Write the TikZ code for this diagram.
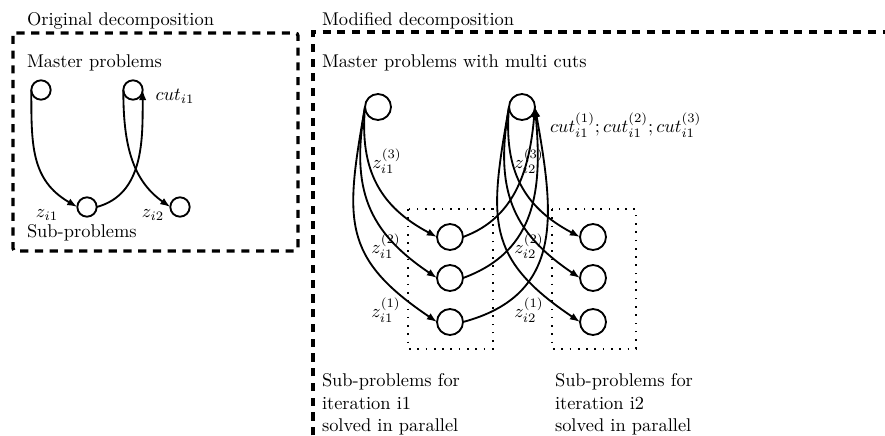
\documentclass[tikz,border=0pt]{standalone}
\usetikzlibrary{arrows.meta}
\begin{document}
\begin{tikzpicture}[x=0.5426pt,y=-0.5426pt,
 every node/.style={inner sep=0pt, outer sep=0pt},
 bigc/.style={circle,draw,line width=1pt,minimum size=14.1pt},
 smallc/.style={circle,draw,line width=1pt,minimum size=10.5pt},
 arr/.style={line width=1pt,-{Latex[length=5.5pt,width=4pt]}},
 frame/.style={line width=1.8pt,dash pattern=on 4.4pt off 3.6pt},
 grp/.style={line width=0.9pt,dash pattern=on 0.9pt off 3.6pt}]
\useasboundingbox (0,0) rectangle (885,436);
% ---------- left panel ----------
\draw[frame, rounded corners=1.5pt] (13,33) rectangle (298,251);
\node[anchor=base west] (t1) at (27,26) {Original decomposition};
\node[anchor=base west] (t2) at (27,68) {Master problems};
\node[smallc] (m1) at (41,90) {};
\node[smallc] (m2) at (133,90) {};
\node[smallc] (s1) at (87,207) {};
\node[smallc] (s2) at (180,207) {};
\node (cut) at (175,96) {$cut_{i1}$};
\node (zl1) at (47,215) {$z_{i1}$};
\node (zl2) at (153,215) {$z_{i2}$};
\node[anchor=base west] (t3) at (27,237) {Sub-problems};
\draw[arr] (m1.west) to[out=-90,in=150,looseness=1.1] (s1.west);
\draw[arr] (s1.east) to[out=15,in=-90] (m2.east);
\draw[arr] (m2.west) to[out=-90,in=145] (s2.west);
% ---------- right panel ----------
\draw[frame] (313,450) -- (313,32) -- (900,32);
\node[anchor=base west] (t4) at (322,26) {Modified decomposition};
\node[anchor=base west] (t5) at (322,68) {Master problems with multi cuts};
\draw[grp] (408,209) rectangle (493,349);
\draw[grp] (552,209) rectangle (636,349);
\node[bigc] (A) at (378,107) {};
\node[bigc] (B) at (522,107) {};
\node[bigc] (g1a) at (450,237) {};
\node[bigc] (g1b) at (450,278) {};
\node[bigc] (g1c) at (450,322) {};
\node[bigc] (g2a) at (593,237) {};
\node[bigc] (g2b) at (593,278) {};
\node[bigc] (g2c) at (593,322) {};
\draw[arr] (A.west) to[out=-95,in=152,looseness=1.1] (g1a.west);
\draw[arr] (A.west) to[out=-100,in=146,looseness=1.15] (g1b.west);
\draw[arr] (A.west) to[out=-100,in=146,looseness=1.3] (g1c.west);
\draw[arr] (g1a.east) to[out=20,in=-95] (B.east);
\draw[arr] (g1b.east) to[out=20,in=-85,looseness=1.1] (B.east);
\draw[arr] (g1c.east) to[out=15,in=-80,looseness=1.2] (B.east);
\draw[arr] (B.west) to[out=-95,in=152,looseness=1.1] (g2a.west);
\draw[arr] (B.west) to[out=-100,in=146,looseness=1.15] (g2b.west);
\draw[arr] (B.west) to[out=-100,in=146,looseness=1.3] (g2c.west);
\node (z13) at (387,161) {$z_{i1}^{(3)}$};
\node (z12) at (386,246) {$z_{i1}^{(2)}$};
\node (z11) at (386,310) {$z_{i1}^{(1)}$};
\node (z23) at (529,161) {$z_{i2}^{(3)}$};
\node (z22) at (529,246) {$z_{i2}^{(2)}$};
\node (z21) at (529,310) {$z_{i2}^{(1)}$};
\node[anchor=west] (cuts) at (550,125) {$cut_{i1}^{(1)};cut_{i1}^{(2)};cut_{i1}^{(3)}$};
\node[anchor=north west,align=left] (b1) at (322,374) {Sub-problems for\\iteration i1\\solved in parallel};
\node[anchor=north west,align=left] (b2) at (555,374) {Sub-problems for\\iteration i2\\solved in parallel};
\end{tikzpicture}
\end{document}
